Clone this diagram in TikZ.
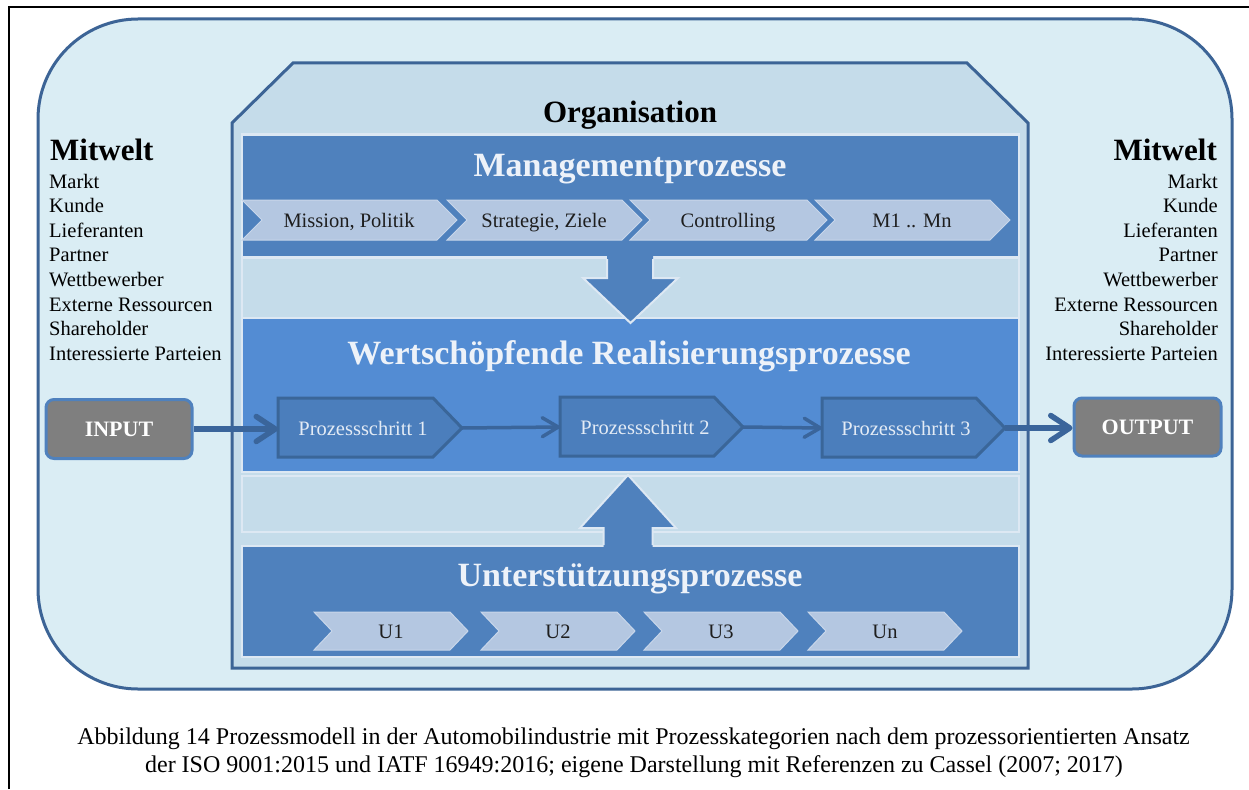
\documentclass[tikz,border=0pt]{standalone}
\usepackage{fontspec}
\setmainfont{Liberation Serif}
\usetikzlibrary{arrows.meta,calc}
\definecolor{outerfill}{HTML}{DAEDF4}
\definecolor{outerline}{HTML}{3C6496}
\definecolor{housefill}{HTML}{C5DCEA}
\definecolor{boxblue}{HTML}{4F81BD}
\definecolor{wertblue}{HTML}{538CD3}
\definecolor{lightline}{HTML}{DDE8F3}
\definecolor{chevfill}{HTML}{B4C7E1}
\definecolor{chevline}{HTML}{C8D6EA}
\definecolor{stepfill}{HTML}{4B7EBC}
\definecolor{stepline}{HTML}{3A6699}
\definecolor{arrowblue}{HTML}{3A659B}
\definecolor{iofill}{HTML}{7F7F7F}
\definecolor{ioline}{HTML}{4F81BD}
\definecolor{titlewhite}{HTML}{EDF2F9}
\definecolor{steptext}{HTML}{E3EBF5}
\definecolor{chevtextc}{HTML}{1E1E1E}
\tikzset{
  bigbox/.style={draw=lightline, line width=2.5pt, minimum width=777pt, inner sep=0pt},
  boxtitle/.style={anchor=base, text=titlewhite, font=\fontsize{34}{40}\selectfont\bfseries},
  chevshape/.style={fill=chevfill, draw=chevline, line width=1pt},
  chevtext/.style={anchor=base, text=chevtextc, font=\fontsize{20.5}{24}\selectfont},
  stepshape/.style={fill=stepfill, draw=stepline, line width=3pt, line join=miter},
  steptxt/.style={anchor=base, text=steptext, font=\fontsize{20.5}{24}\selectfont},
  iobox/.style={fill=iofill, draw=ioline, line width=3pt, rounded corners=8pt, minimum height=59pt, inner sep=0pt, text=white, font=\fontsize{22}{26}\selectfont\bfseries},
  bigflow/.style={draw=arrowblue, line width=5.5pt, -{Straight Barb[length=19pt,width=25pt,line cap=round,line join=round]}},
  smallflow/.style={draw=arrowblue, line width=3.5pt, -{Straight Barb[length=16pt,width=19pt,line cap=round,line join=round]}},
  listtext/.style={font=\fontsize{20.5}{24}\selectfont, inner sep=0pt},
  mwtitle/.style={font=\fontsize{31}{36}\selectfont\bfseries, inner sep=0pt},
  captext/.style={anchor=base, font=\fontsize{24}{28}\selectfont, inner sep=0pt},
  bandbox/.style={fill=housefill, draw=lightline, line width=2.5pt},
  fatarrow/.style={fill=boxblue},
  fatarrowline/.style={draw=lightline, line width=2pt, line join=miter}
}
\begin{document}
\begin{tikzpicture}[x=1pt,y=-1pt]
\useasboundingbox (0,0) rectangle (1249,789);
\fill[white] (0,0) rectangle (1249,789);
% frame
\draw[black, line width=2pt] (9,789) -- (9,7) -- (1249,7);
% outer environment
\draw[draw=outerline, fill=outerfill, line width=3pt, rounded corners=100pt] (38,19) rectangle (1232,689);
% house
\draw[fill=housefill, draw=outerline, line width=3pt] (232,668) -- (232,123) -- (293,63) -- (967,63) -- (1028,123) -- (1028,668) -- cycle;
\node[mwtitle, anchor=base] (org) at (630,122) {Organisation};
% bands
\draw[bandbox] (242,258) rectangle (1019,318);
\draw[bandbox] (242,476) rectangle (1019,532);
% management box
\node[bigbox, fill=boxblue, minimum height=123pt] (mgmt) at (630.5,196) {};
\node[boxtitle] (mgmtt) at (630,176) {Managementprozesse};
\foreach \a/\b in {242/437,447/622,630/807,815/990}
  \filldraw[chevshape] (\a,200) -- (\b,200) -- (\b+20,220) -- (\b,240) -- (\a,240) -- (\a+20,220) -- cycle;
\node[chevtext] (m1) at (349,227) {Mission, Politik};
\node[chevtext] (m2) at (544,227) {Strategie, Ziele};
\node[chevtext] (m3) at (728,227) {Controlling};
\node[chevtext] (m4) at (912,227) {M1 .. Mn};
% value box
\node[bigbox, fill=wertblue, minimum height=154pt] (wert) at (630.5,395) {};
\node[boxtitle] (wertt) at (629,364) {Wertschöpfende Realisierungsprozesse};
% down arrow
\fill[fatarrow] (607,256) -- (607,278) -- (583,278) -- (630.5,323) -- (678,278) -- (653,278) -- (653,256) -- cycle;
\draw[fatarrowline] (607,259) -- (607,278) -- (583,278) -- (630.5,323) -- (678,278) -- (653,278) -- (653,259);
% support box
\node[bigbox, fill=boxblue, minimum height=111pt] (supp) at (630.5,601.5) {};
\node[boxtitle] (suppt) at (630,586) {Unterstützungsprozesse};
\foreach \a in {314,481,644,808}
  \filldraw[chevshape] (\a,612) -- (\a+136,612) -- (\a+154,631) -- (\a+136,650) -- (\a,650) -- (\a+18,631) -- cycle;
\node[chevtext] (u1) at (391,638) {U1};
\node[chevtext] (u2) at (558,638) {U2};
\node[chevtext] (u3) at (721,638) {U3};
\node[chevtext] (u4) at (885,638) {Un};
% up arrow
\fill[fatarrow] (603.5,548) -- (603.5,528) -- (580,528) -- (628,475) -- (676,528) -- (652.5,528) -- (652.5,548) -- cycle;
\draw[fatarrowline] (603.5,545) -- (603.5,528) -- (580,528) -- (628,475) -- (676,528) -- (652.5,528) -- (652.5,545);
% process steps
\filldraw[stepshape] (278,398) -- (433,398) -- (462,428) -- (433,457) -- (278,457) -- cycle;
\filldraw[stepshape] (560,397) -- (714,397) -- (743,427) -- (714,456) -- (560,456) -- cycle;
\filldraw[stepshape] (822,398) -- (976,398) -- (1005,428) -- (976,457) -- (822,457) -- cycle;
\coordinate (ps1w) at (278,429);
\coordinate (ps1e) at (462,428);
\coordinate (ps2w) at (560,427);
\coordinate (ps2e) at (743,427);
\coordinate (ps3w) at (822,428);
\coordinate (ps3e) at (1005,428);
\node[steptxt] (ps1) at (363,435) {Prozessschritt 1};
\node[steptxt] (ps2) at (645,434) {Prozessschritt 2};
\node[steptxt] (ps3) at (906,435) {Prozessschritt 3};
% input / output
\node[iobox, minimum width=146pt] (input) at (119,429) {INPUT};
\node[iobox, minimum width=147pt, minimum height=58pt] (output) at (1147.5,427) {OUTPUT};
\draw[bigflow] (input.east |- ps1w) -- (ps1w);
\draw[smallflow] (ps1e) -- (ps2w);
\draw[smallflow] (ps2e) -- (ps3w);
\draw[bigflow] (ps3e) -- (output.west |- ps3e);
% Mitwelt
\node[mwtitle, anchor=base west] (mwl) at (50,160) {Mitwelt};
\node[mwtitle, anchor=base east] (mwr) at (1217,160) {Mitwelt};
\foreach \t [count=\i] in {Markt,Kunde,Lieferanten,Partner,Wettbewerber,Externe Ressourcen,Shareholder,Interessierte Parteien}{
  \node[listtext, anchor=base west] (ml\i) at (49,{188+24.6*(\i-1)}) {\t};
  \node[listtext, anchor=base east] (mr\i) at (1218,{188+24.6*(\i-1)}) {\t};
}
% caption
\node[captext] (cap1) at (633.5,744) {Abbildung 14 Prozessmodell in der Automobilindustrie mit Prozesskategorien nach dem prozessorientierten Ansatz};
\node[captext] (cap2) at (634,772) {der ISO 9001:2015 und IATF 16949:2016; eigene Darstellung mit Referenzen zu Cassel (2007; 2017)};
\end{tikzpicture}
\end{document}
